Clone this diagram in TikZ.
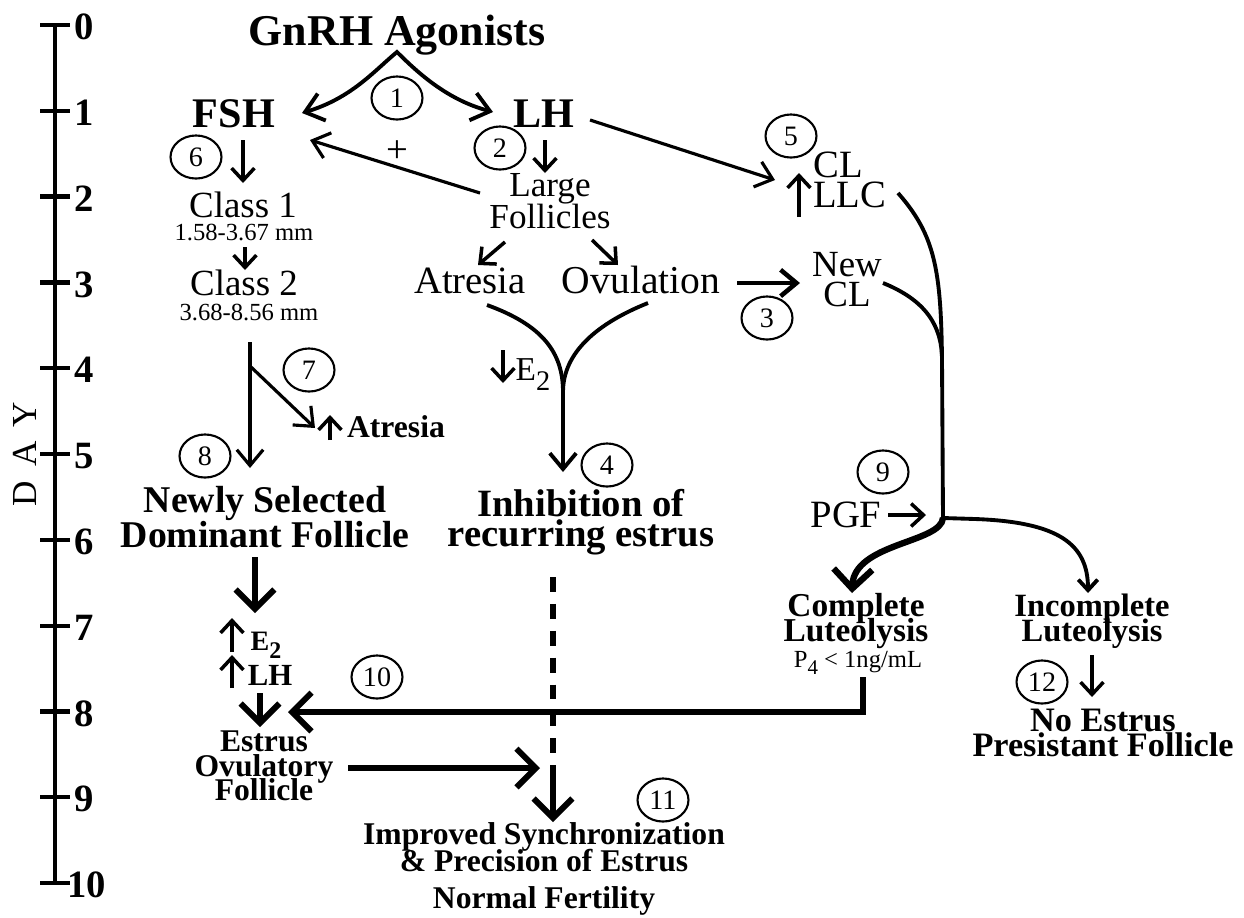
\documentclass[tikz,border=0pt]{standalone}
\usepackage{fontspec}
\setmainfont{Liberation Serif}
\usetikzlibrary{arrows.meta,shapes.geometric,positioning}
\newcommand{\fsz}[2]{\fontsize{#1pt}{#2pt}\selectfont}
\newcommand{\lowsub}[1]{\raisebox{-0.3em}{\scalebox{0.85}{#1}}}
\lineskiplimit=-100pt

\begin{document}
\begin{tikzpicture}[x=0.02cm,y=-0.02cm,
  txt/.style={inner sep=0pt,align=center},
  num/.style={ellipse,draw,line width=1.2pt,minimum width=29pt,minimum height=24.5pt,inner sep=0pt,font=\fsz{16}{16}},
  daynum/.style={inner sep=0pt,anchor=west,font=\fsz{22}{22}\bfseries},
  axisline/.style={line width=2.4pt},
  tarr/.style={line width=2pt,-{Straight Barb[length=7pt,width=13pt]}},
  arr/.style={line width=1.8pt,-{Straight Barb[length=9pt,width=15pt]}},
  twoarr/.style={line width=2.2pt,{Straight Barb[length=10pt,width=16pt]}-{Straight Barb[length=10pt,width=16pt]}},
  bigarr/.style={line width=3.4pt,-{Straight Barb[length=11pt,width=22pt]}},
  link/.style={line width=2.2pt}]

\useasboundingbox (0,0) rectangle (1244,917);

% day scale
\draw[axisline] (55,25) -- (55,883);
\foreach \d in {0,...,10}{
  \draw[axisline] (40,{25+85.8*\d}) -- (70,{25+85.8*\d});
  \node[daynum] (d\d) at ({\d<10 ? 74 : 67},{27+85.8*\d}) {\d};
}
\node[rotate=90,inner sep=0pt,font=\fsz{20}{20}] (day) at (25,454) {D\hspace{0.4em}A\hspace{0.4em}Y};

% texts
\node[txt,anchor=base,font=\fsz{25}{25}\bfseries] (gnrh) at (397,45) {GnRH Agonists};
\node[txt,anchor=base,font=\fsz{24}{24}\bfseries] (fsh) at (234,127) {FSH};
\node[txt,anchor=base,font=\fsz{24}{24}\bfseries] (lh) at (544,127) {LH};
\node[txt,anchor=base,font=\fsz{21}{21}] (class1) at (243,217) {Class 1};
\node[txt,anchor=base,font=\fsz{14}{14}] (mm1) at (244,240) {1.58-3.67 mm};
\node[txt,anchor=base,font=\fsz{21}{21}] (class2) at (244,295) {Class 2};
\node[txt,anchor=base,font=\fsz{14}{14}] (mm2) at (249,320) {3.68-8.56 mm};
\node[txt,font=\fsz{20}{18}] (large) at (550,201) {Large\\Follicles};
\node[txt,anchor=base,font=\fsz{22}{22}] (atresia) at (470,293) {Atresia};
\node[txt,anchor=base,font=\fsz{22.5}{22.5}] (ovul) at (641,293) {Ovulation};
\node[txt,font=\fsz{21}{17}] (newcl) at (847,280) {New\\CL};
\node[txt,align=left,anchor=west,font=\fsz{22}{17}] (cl) at (813,180) {CL\\LLC};
\node[txt,font=\fsz{22}{22}] (plus) at (397,152) {+};
\node[txt,anchor=base,font=\fsz{19}{19}] (e2dn) at (533,380) {E\lowsub{2}};
\node[txt,anchor=base,font=\fsz{18}{18}\bfseries] (uatr) at (396,437) {Atresia};
\node[txt,font=\fsz{21.5}{19.8}\bfseries] (newly) at (265,517) {Newly Selected\\Dominant Follicle};
\node[txt,font=\fsz{22}{17}\bfseries] (inhib) at (581,522) {Inhibition of\\recurring estrus};
\node[txt,anchor=base,font=\fsz{22}{22}] (pgf) at (846,527) {PGF};
\node[txt,anchor=base,font=\fsz{16}{16}\bfseries] (e2up) at (266,650) {E\lowsub{2}};
\node[txt,anchor=base,font=\fsz{17.5}{17.5}\bfseries] (lhup) at (270,685) {LH};
\node[txt,font=\fsz{18}{14}\bfseries] (estrus) at (264,766) {Estrus\\Ovulatory\\Follicle};
\node[txt,font=\fsz{19}{14.5}\bfseries] (complete) at (856,621) {Complete\\Luteolysis};
\node[txt,anchor=base,font=\fsz{14}{14}] (p4) at (858,667) {P\lowsub{4} < 1ng/mL};
\node[txt,font=\fsz{18.5}{14.5}\bfseries] (incomplete) at (1092,621) {Incomplete\\Luteolysis};
\node[txt,font=\fsz{19.5}{14}\bfseries] (noestrus) at (1103,733) {No Estrus\\Presistant Follicle};
\node[txt,font=\fsz{18}{15.5}\bfseries] (improved) at (544,847) {Improved Synchronization\\\& Precision of Estrus};
\node[txt,anchor=base,font=\fsz{18}{18}\bfseries] (normal) at (544,908) {Normal Fertility};

% circled steps
\node[num] (n1) at (397,98) {1};
\node[num] (n2) at (500,148) {2};
\node[num] (n3) at (767,318) {3};
\node[num] (n4) at (607,465) {4};
\node[num] (n5) at (791,136) {5};
\node[num] (n6) at (196,157) {6};
\node[num] (n7) at (309,370) {7};
\node[num] (n8) at (205,456) {8};
\node[num] (n9) at (883,472) {9};
\node[num] (n10) at (377,677) {10};
\node[num] (n11) at (663,800) {11};
\node[num] (n12) at (1042,682) {12};

\coordinate (ymerge) at (563,392);
\coordinate (vjoin) at (942,360);
\coordinate (split) at (943,518);
\coordinate (dmid) at (553,766);

% agonists to FSH and LH
\draw[twoarr] ([shift={(68,-14)}]fsh.base) .. controls +(50,-15) and +(-22,18) .. ([shift={(0,7)}]gnrh.base)
  .. controls +(22,22) and +(-45,-12) .. ([shift={(-51,-15)}]lh.base);
\draw[arr] ([shift={(46,-7)}]lh.base) -- ([shift={(-38,0)}]cl.west);
\draw[arr] ([shift={(-70,-8)}]large.center) -- ([shift={(76,13)}]fsh.base);

% small arrows
\draw[tarr] ([shift={(9,13)}]fsh.base) -- ([shift={(0,-34)}]class1.base);
\draw[tarr] ([shift={(1,13)}]lh.base) -- ([shift={(-5,-28)}]large.center);
\draw[tarr] ([shift={(1,7)}]mm1.base) -- ([shift={(1,-25)}]class2.base);
\draw[tarr] ([shift={(-45,41)}]large.center) -- ([shift={(8,-28)}]atresia.base);
\draw[tarr] ([shift={(42,39)}]large.center) -- ([shift={(-23,-28)}]ovul.base);
\draw[tarr] ([shift={(-14,37)}]cl.west) -- ([shift={(-14,-7)}]cl.west);
\draw[tarr] ([shift={(-30,-30)}]e2dn.base) -- ([shift={(-30,3)}]e2dn.base);
\draw[tarr] ([shift={(-66,3)}]uatr.base) -- ([shift={(-66,-22)}]uatr.base);
\draw[tarr] ([shift={(-34,2)}]e2up.base) -- ([shift={(-34,-32)}]e2up.base);
\draw[tarr] ([shift={(-38,3)}]lhup.base) -- ([shift={(-38,-30)}]lhup.base);
\draw[tarr] ([shift={(42,-12)}]pgf.base) -- ([shift={(80,-12)}]pgf.base);
\draw[tarr] ([shift={(0,34)}]incomplete.center) -- ([shift={(-11,-36)}]noestrus.center);

% ovulation, atresia
\draw[arr,line width=2.6pt] ([shift={(96,-10)}]ovul.base) -- ([shift={(-47,3)}]newcl.center);
\draw[link] ([shift={(17,12)}]atresia.base) .. controls +(55,20) and +(0,-40) .. (ymerge);
\draw[link] ([shift={(7,10)}]ovul.base) .. controls +(-50,20) and +(0,-40) .. (ymerge);
\draw[arr,line width=2.2pt] (ymerge) -- ([shift={(-18,-50)}]inhib.center);

% follicle classes
\draw[arr] ([shift={(1,22)}]mm2.base) -- ([shift={(-15,-49)}]newly.center);
\draw[arr] ([shift={(2,47)}]mm2.base) -- ([shift={(-81,-9)}]uatr.base);
\draw[bigarr] ([shift={(-10,40)}]newly.center) -- ([shift={(-11,-37)}]e2up.base);
\draw[bigarr] ([shift={(-10,8)}]lhup.base) -- ([shift={(-4,-39)}]estrus.center);
\draw[bigarr] ([shift={(5,10)}]p4.base) |- ([shift={(24,-54)}]estrus.center);
\draw[bigarr] ([shift={(84,2)}]estrus.center) -- ([shift={(-4,-79)}]improved.center);
\draw[line width=3.4pt,dash pattern=on 8.5pt off 6.8pt] ([shift={(-28,55)}]inhib.center) -- (dmid);
\draw[bigarr] (dmid) -- ([shift={(9,-25)}]improved.center);

% corpus luteum and luteolysis
\draw[link] ([shift={(85,13)}]cl.west) .. controls +(37,42) and +(-1,-90) .. (vjoin) -- (split);
\draw[link] ([shift={(36,3)}]newcl.center) .. controls +(42,17) and +(0,-35) .. (vjoin);
\draw[bigarr,line width=3.6pt] (split) .. controls +(-2,25) and +(2,-50) .. ([shift={(-4,-28)}]complete.center);
\draw[line width=2.2pt,-{Straight Barb[length=6pt,width=11pt]}] (split) -- ++(32,1) .. controls +(85,3) and +(0,-48) .. ([shift={(-4,-28)}]incomplete.center);
\end{tikzpicture}
\end{document}
